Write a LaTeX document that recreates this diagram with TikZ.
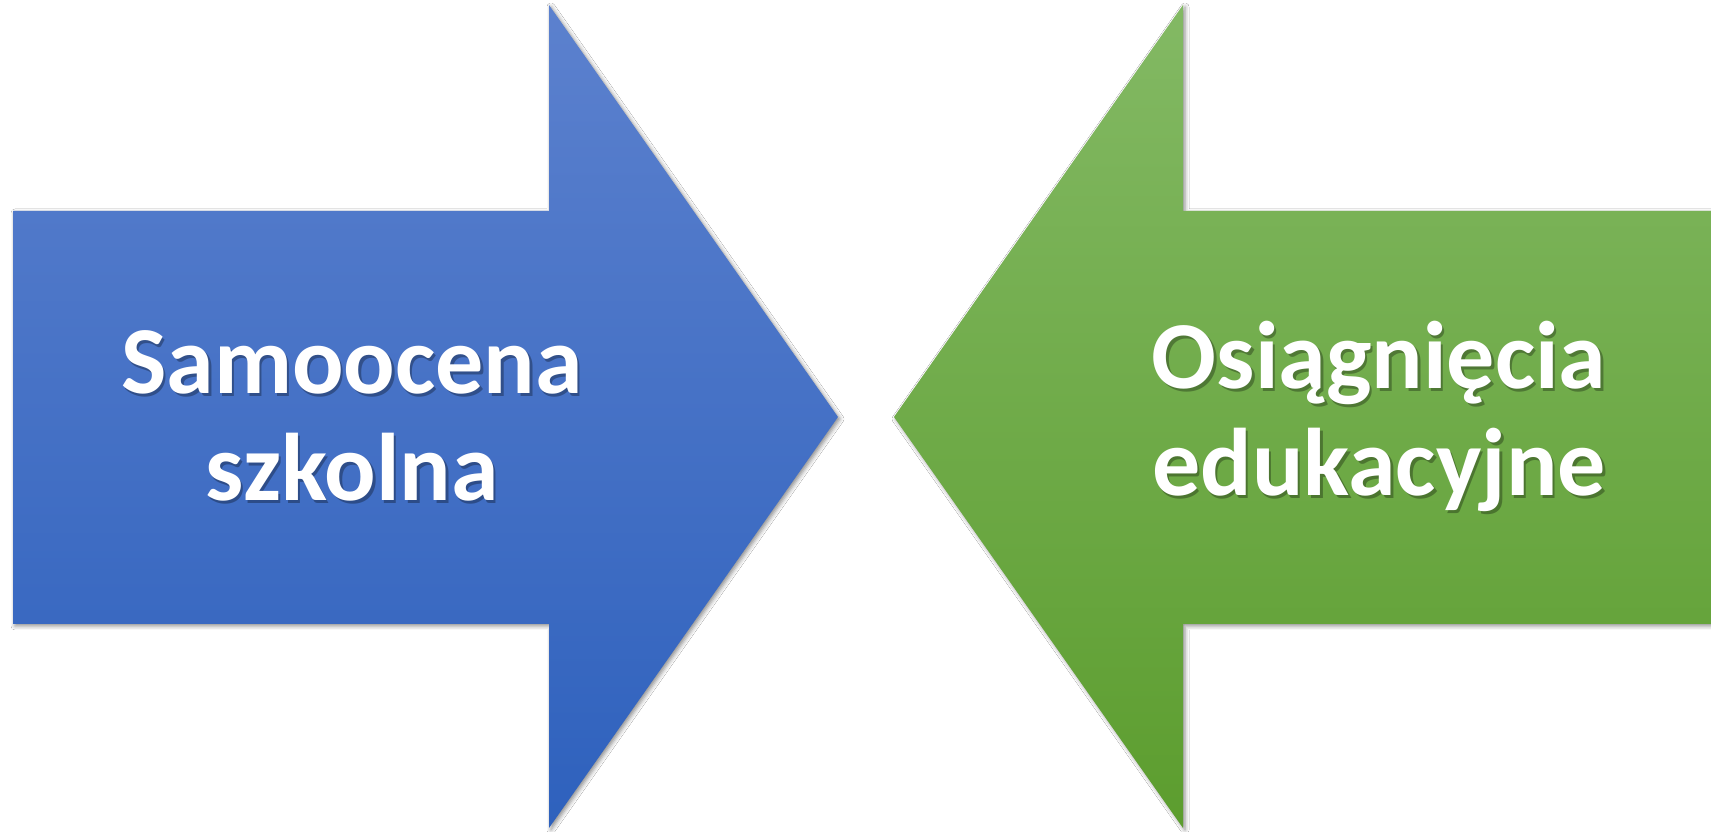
\documentclass[tikz,border=0pt]{standalone}
\usepackage{fontspec}
\setmainfont{Carlito}
\usetikzlibrary{shadows.blur}
\definecolor{bluetop}{HTML}{5C81CE}
\definecolor{bluebot}{HTML}{2E61BD}
\definecolor{greentop}{HTML}{83B964}
\definecolor{greenbot}{HTML}{5C9D2E}
\tikzset{
  arrowshape/.style={blur shadow={shadow xshift=2pt,shadow yshift=-2pt,shadow blur radius=4pt,shadow opacity=45}},
  label/.style={align=center,font=\fontsize{96}{107}\selectfont\bfseries,text=white,inner sep=0pt},
  labelshadow/.style={label,text=black,opacity=0.3}
}
\begin{document}
\begin{tikzpicture}[x=1pt,y=1pt]
\useasboundingbox (0,0) rectangle (1711,832);
\fill[white] (0,0) rectangle (1711,832);
\path[arrowshape,top color=bluetop,bottom color=bluebot]
  (13,621) -- (549,621) -- (549,827) -- (838,415) -- (549,4) -- (549,208) -- (13,208) -- cycle;
\path[arrowshape,top color=greentop,bottom color=greenbot]
  (1730,621) -- (1183,621) -- (1183,827) -- (894,415) -- (1183,4) -- (1183,208) -- (1730,208) -- cycle;
\node[labelshadow] (ls) at (354.5,413) {Samoocena\\szkolna};
\node[label] (l) at (352,416) {Samoocena\\szkolna};
\node[labelshadow] (rs) at (1381.5,413) {Osiągnięcia\\edukacyjne};
\node[label] (r) at (1379,416) {Osiągnięcia\\edukacyjne};
\end{tikzpicture}
\end{document}
